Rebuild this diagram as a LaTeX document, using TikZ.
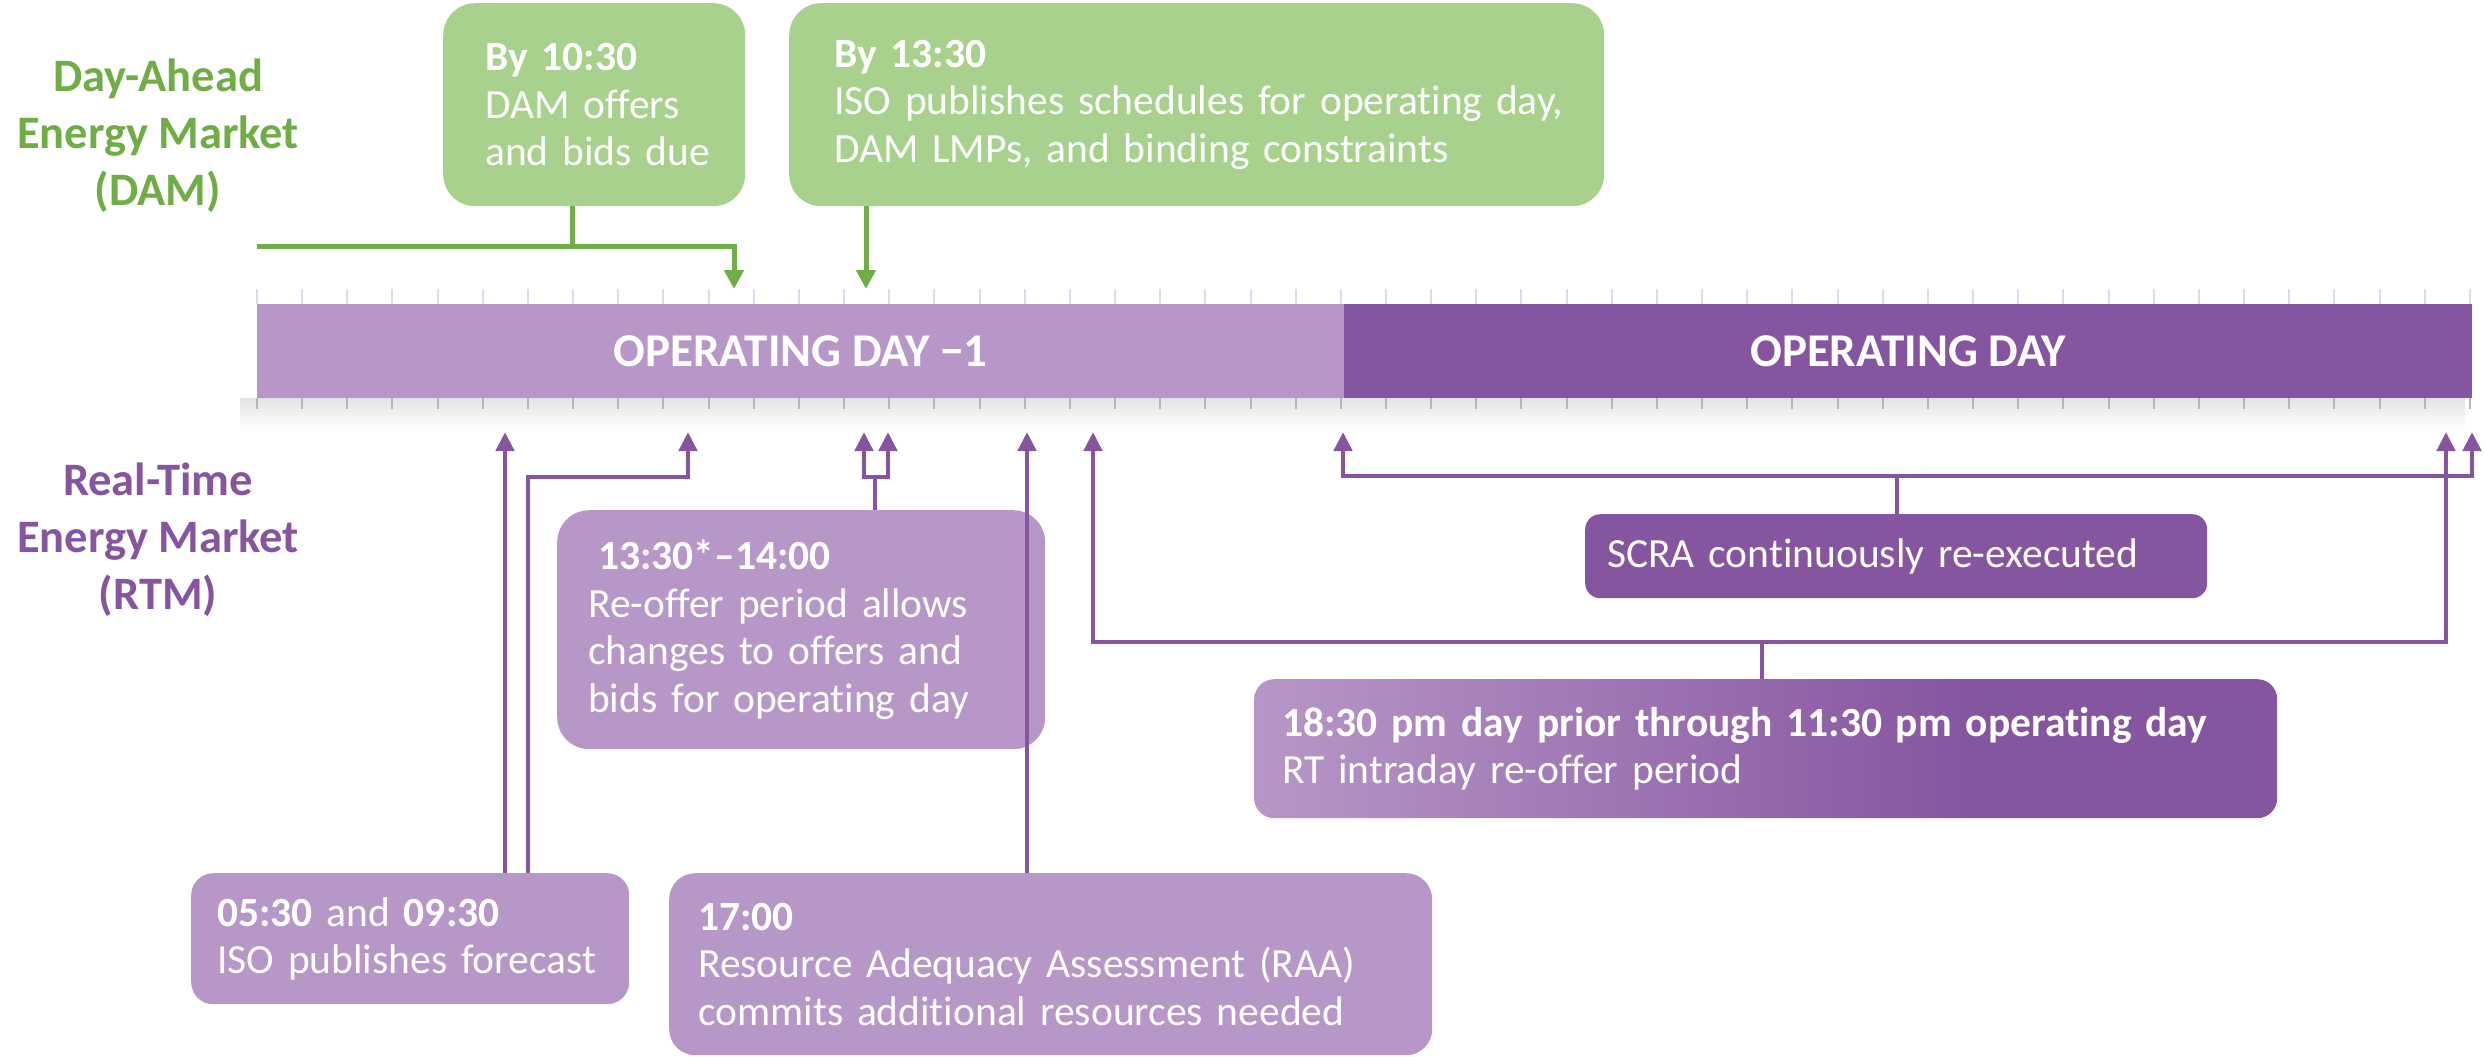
\documentclass[tikz,border=0pt]{standalone}
\usepackage{fontspec}
\setmainfont{Carlito}[Ligatures=NoCommon]
\usetikzlibrary{arrows.meta}
\definecolor{gbox}{HTML}{A9D18E}
\definecolor{gline}{HTML}{70AD47}
\definecolor{plight}{HTML}{B797C7}
\definecolor{pdark}{HTML}{8655A0}
\definecolor{ticktop}{HTML}{E3D8ED}
\definecolor{tickbot}{HTML}{B9B0C2}
\pgfdeclarehorizontalshading{pgrad}{100bp}{color(0bp)=(plight); color(25bp)=(plight); color(60bp)=(pdark); color(100bp)=(pdark)}
\begin{document}
\begin{tikzpicture}[x=1pt,y=-1pt,
  boxtxt/.style={font=\fontsize{41.5}{47.5}\selectfont, text=white, align=left, anchor=north west, inner ysep=0pt},
  gbx/.style={boxtxt, fill=gbox, rounded corners=32pt},
  pbx/.style={boxtxt, fill=plight, rounded corners=22pt},
  bartxt/.style={font=\fontsize{47}{54}\selectfont\bfseries, text=white, anchor=north west, inner sep=0pt},
  sidelbl/.style={font=\fontsize{46.5}{57}\selectfont\bfseries, align=center},
  gconn/.style={draw=gline, line width=5pt},
  garr/.style={gconn, -{Triangle[width=19pt,length=19pt]}},
  pconn/.style={draw=pdark, line width=4.5pt},
  parr/.style={pconn, -{Triangle[width=18pt,length=19pt]}},
  parrs/.style={pconn, {Triangle[width=18pt,length=19pt]}-{Triangle[width=18pt,length=19pt]}},
]
\useasboundingbox (0,0) rectangle (2484,1057);

% side labels
\node[sidelbl, text=gline] (dam) at (158,136) {Day-Ahead\\Energy Market\\(DAM)};
\node[sidelbl, text=pdark] (rtm) at (158,540) {Real-Time\\Energy Market\\(RTM)};

% shadow under the bar
\shade[top color=gray!22, middle color=gray!40, bottom color=white] (240,398) rectangle (2465,430);

% ticks
\foreach \k in {0,...,49}{
  \draw[ticktop, line width=2pt] ({257+45.16*\k},289) -- ++(0,15);
  \draw[tickbot, line width=2pt] ({257+45.16*\k},398) -- ++(0,11);
}

% bar
\node[bartxt, fill=plight, minimum width=1087pt, minimum height=94pt] (dayprev) at (257,304) {OPERATING DAY −1};
\node[bartxt, fill=pdark, minimum width=1128pt, minimum height=94pt] (opday) at (1344,304) {OPERATING DAY};

% green boxes
\node[gbx, inner xsep=42pt, text width=218pt, minimum height=203pt] (G1) at (443,3)
  {\mbox{\textbf{By 10:30}}\\\mbox{DAM offers}\\\mbox{and bids due}};
\node[gbx, inner xsep=45pt, text width=725pt, minimum height=203pt] (G2) at (789,3)
  {\textbf{By 13:30}\\\mbox{ISO publishes schedules for operating day,}\\\mbox{DAM LMPs, and binding constraints}};

% purple boxes
\node[pbx, inner xsep=26pt, text width=386pt, minimum height=131pt] (P1) at (191,873)
  {\mbox{\textbf{05:30} and \textbf{09:30}}\\\mbox{ISO publishes forecast}};
\node[pbx, rounded corners=32pt, inner xsep=31pt, text width=426pt, minimum height=239pt] (P2) at (557,510)
  {\hspace*{10pt}\textbf{13:30*–14:00}\\\mbox{Re-offer period allows}\\\mbox{changes to offers and}\\\mbox{bids for operating day}};
\node[pbx, rounded corners=26pt, inner xsep=29pt, text width=705pt, minimum height=182pt] (P3) at (669,873)
  {\textbf{17:00}\\\mbox{Resource Adequacy Assessment (RAA)}\\\mbox{commits additional resources needed}};
\node[pbx, fill=pdark, rounded corners=15pt, inner xsep=22pt, text width=578pt, minimum height=84pt] (P4) at (1585,514)
  {\mbox{SCRA continuously re-executed}};
\node[pbx, fill=none, shading=pgrad, rounded corners=20pt, inner xsep=28pt, text width=967pt, minimum height=139pt] (P5) at (1254,679)
  {\mbox{\textbf{18:30 pm day prior through 11:30 pm operating day}}\\\mbox{RT intraday re-offer period}};

% coordinates on the time line
\coordinate (damL) at (257,246);
\coordinate (s1) at (572,246);
\coordinate (h1030) at (734,289);
\coordinate (h1330g) at (866,289);
\coordinate (b0530) at (505,432);
\coordinate (b0930) at (688,432);
\coordinate (b1330) at (864,432);
\coordinate (b1400) at (888,432);
\coordinate (b1700) at (1027,432);
\coordinate (b1830) at (1093,432);
\coordinate (b2330) at (2446,432);
\coordinate (b0000) at (1343,432);
\coordinate (b2400) at (2472,432);
\coordinate (j2) at (528,477);
\coordinate (j3) at (875,477);
\coordinate (j5) at (1762,642);
\coordinate (j6) at (1897,476);

% green connectors
\draw[gconn] (G1.south -| s1) -- (s1);
\draw[garr] (damL) -- (h1030 |- damL) -- (h1030);
\draw[garr] (G2.south -| h1330g) -- (h1330g);

% purple connectors
\draw[parr] (P1.north -| b0530) -- (b0530);
\draw[parr] (P1.north -| j2) -- (j2) -- (b0930 |- j2) -- (b0930);
\draw[pconn] (P2.north -| j3) -- (j3);
\draw[parrs] (b1330) -- (b1330 |- j3) -- (b1400 |- j3) -- (b1400);
\draw[parr] (P3.north -| b1700) -- (b1700);
\draw[pconn] (P5.north -| j5) -- (j5);
\draw[parrs] (b1830) -- (b1830 |- j5) -- (b2330 |- j5) -- (b2330);
\draw[pconn] (P4.north -| j6) -- (j6);
\draw[parrs] (b0000) -- (b0000 |- j6) -- (b2400 |- j6) -- (b2400);
\end{tikzpicture}
\end{document}
